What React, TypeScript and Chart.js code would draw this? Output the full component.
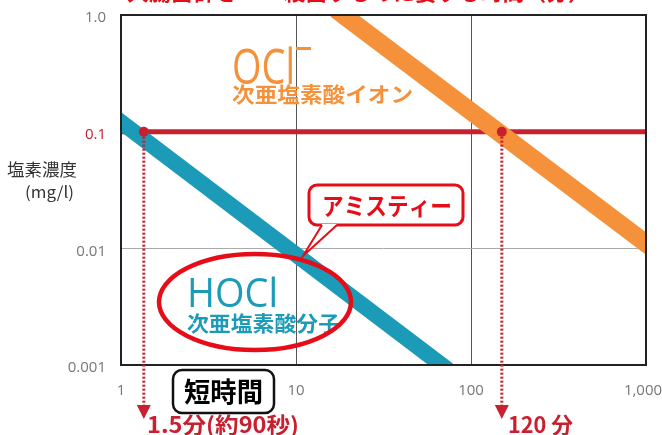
import React, { useEffect, useRef } from "react";
import { Chart, registerables } from "chart.js";

Chart.register(...registerables);

// ---- data ----
const xTickValues = [1, 10, 100, 1000];
const xTickLabels = ["1", "10", "100", "1,000"];
const yTickValues = [0.001, 0.01, 0.1, 1];
const yTickLabels = ["0.001", "0.01", "0.1", "1.0"];

const hoclTime = [1, 68];
const hoclConc = [0.121, 0.001];
const oclTime = [18.6, 1000];
const oclConc = [1, 0.011];
const thresholdTime = [1, 1000];
const thresholdConc = 0.1;
const markerTime = [1.35, 150];
const markerLabels = ["1.5分(約90秒)", "120 分"];

const RED = "#c8202f";
const BRIGHT_RED = "#e60d19";
const TEAL = "#1c9bb8";
const ORANGE = "#f5913a";
const CJK = '"Noto Sans CJK JP", "Noto Sans", sans-serif';
const LAT = '"Open Sans", "Noto Sans", sans-serif';

function fitText(
  ctx: CanvasRenderingContext2D,
  text: string,
  x: number,
  y: number,
  w: number,
  font: string,
  color: string,
  baseline: CanvasTextBaseline = "middle"
) {
  ctx.save();
  ctx.font = font;
  ctx.fillStyle = color;
  ctx.textAlign = "left";
  ctx.textBaseline = baseline;
  const m = ctx.measureText(text).width;
  const s = m > 0 ? w / m : 1;
  ctx.translate(x, y);
  ctx.scale(s, 1);
  ctx.fillText(text, 0, 0);
  ctx.restore();
}

const annotPlugin = {
  id: "annot",
  afterDatasetsDraw(chart: any) {
    const ctx: CanvasRenderingContext2D = chart.ctx;
    const { left, top, right, bottom } = chart.chartArea;
    const xs = chart.scales.x;
    const ys = chart.scales.y;

    // frame
    ctx.save();
    ctx.strokeStyle = "#222";
    ctx.lineWidth = 2;
    ctx.strokeRect(left, top, right - left, bottom - top);
    ctx.restore();

    // dotted drop lines + arrows
    const yThr = ys.getPixelForValue(thresholdConc);
    markerTime.forEach((t) => {
      const px = xs.getPixelForValue(t);
      ctx.save();
      ctx.strokeStyle = RED;
      ctx.lineWidth = 3;
      ctx.setLineDash([2, 2]);
      ctx.beginPath();
      ctx.moveTo(px, yThr + 5);
      ctx.lineTo(px, 406);
      ctx.stroke();
      ctx.setLineDash([]);
      ctx.fillStyle = RED;
      ctx.beginPath();
      ctx.moveTo(px - 7, 405);
      ctx.lineTo(px + 7, 405);
      ctx.lineTo(px, 419);
      ctx.closePath();
      ctx.fill();
      ctx.restore();
    });

    // tick labels
    ctx.save();
    ctx.font = `15px ${LAT}`;
    ctx.textBaseline = "middle";
    ctx.textAlign = "right";
    yTickValues.forEach((v, i) => {
      ctx.fillStyle = v === thresholdConc ? RED : "#777";
      ctx.fillText(yTickLabels[i], 106, ys.getPixelForValue(v) + 3);
    });
    ctx.textAlign = "center";
    ctx.fillStyle = "#777";
    xTickValues.forEach((v, i) => {
      const px = xs.getPixelForValue(v);
      ctx.fillText(xTickLabels[i], i === xTickValues.length - 1 ? px - 3 : px, 391);
    });
    ctx.restore();

    // axis title
    fitText(ctx, "塩素濃度", 7, 170, 70, `17px ${CJK}`, "#333");
    fitText(ctx, "(mg/l)", 25, 192, 49, `16px ${CJK}`, "#333");

    // top (cut) title
    fitText(ctx, "大腸菌群を99%殺菌するのに要する時間（分）", 127, -8, 463, `bold 22px ${CJK}`, BRIGHT_RED);

    // OCl- labels
    fitText(ctx, "OCl", 232, 84, 63, `400 50px ${LAT}`, ORANGE, "alphabetic");
    ctx.save();
    ctx.fillStyle = ORANGE;
    ctx.fillRect(296, 47, 15, 3);
    ctx.restore();
    fitText(ctx, "次亜塩素酸イオン", 232, 94, 181, `bold 21px ${CJK}`, ORANGE);

    // HOCl labels
    fitText(ctx, "HOCl", 187, 307, 91, `400 40px ${LAT}`, TEAL, "alphabetic");
    fitText(ctx, "次亜塩素酸分子", 187, 323, 153, `bold 21px ${CJK}`, TEAL);

    // ellipse
    ctx.save();
    ctx.strokeStyle = BRIGHT_RED;
    ctx.lineWidth = 4.5;
    ctx.beginPath();
    ctx.ellipse(255, 302, 96, 48, 0, 0, Math.PI * 2);
    ctx.stroke();
    ctx.restore();

    // speech bubble
    ctx.save();
    ctx.strokeStyle = BRIGHT_RED;
    ctx.fillStyle = "#fff";
    ctx.lineWidth = 3;
    ctx.beginPath();
    (ctx as any).roundRect(309, 185, 154, 40, 8);
    ctx.fill();
    ctx.stroke();
    ctx.beginPath();
    ctx.moveTo(322, 224);
    ctx.lineTo(303, 256);
    ctx.lineTo(337, 224);
    ctx.closePath();
    ctx.fill();
    ctx.lineWidth = 2;
    ctx.beginPath();
    ctx.moveTo(322, 225);
    ctx.lineTo(303, 256);
    ctx.lineTo(337, 225);
    ctx.stroke();
    ctx.restore();
    fitText(ctx, "アミスティー", 322, 206, 130, `bold 24px ${CJK}`, BRIGHT_RED);

    // 短時間 box
    ctx.save();
    ctx.strokeStyle = "#111";
    ctx.fillStyle = "#fff";
    ctx.lineWidth = 2.5;
    ctx.beginPath();
    (ctx as any).roundRect(173, 370, 101, 43, 9);
    ctx.fill();
    ctx.stroke();
    ctx.restore();
    fitText(ctx, "短時間", 184, 392, 79, `bold 27px ${CJK}`, "#000");

    // marker labels
    fitText(ctx, markerLabels[0], 147, 433, 152, `bold 22px ${CJK}`, RED, "alphabetic");
    fitText(ctx, markerLabels[1], 508, 433, 65, `bold 22px ${CJK}`, RED, "alphabetic");
  },
};

export default function App() {
  const ref = useRef<HTMLCanvasElement>(null);
  useEffect(() => {
    if (!ref.current) return;
    const chart = new Chart(ref.current, {
      type: "scatter",
      data: {
        datasets: [
          {
            label: "markers",
            data: markerTime.map((t) => ({ x: t, y: thresholdConc })),
            showLine: false,
            pointRadius: 5,
            pointBackgroundColor: RED,
            pointBorderWidth: 0,
            order: 0,
            clip: false as any,
          },
          {
            label: "HOCl",
            data: hoclTime.map((t, i) => ({ x: t, y: hoclConc[i] })),
            showLine: true,
            borderColor: TEAL,
            borderWidth: 16,
            borderCapStyle: "square",
            pointRadius: 0,
            order: 1,
            clip: 0 as any,
          },
          {
            label: "OCl-",
            data: oclTime.map((t, i) => ({ x: t, y: oclConc[i] })),
            showLine: true,
            borderColor: ORANGE,
            borderWidth: 18,
            borderCapStyle: "square",
            pointRadius: 0,
            order: 2,
            clip: 0 as any,
          },
          {
            label: "threshold",
            data: thresholdTime.map((t) => ({ x: t, y: thresholdConc })),
            showLine: true,
            borderColor: RED,
            borderWidth: 5,
            pointRadius: 0,
            order: 3,
            clip: 0 as any,
          },
        ],
      },
      options: {
        animation: false,
        responsive: false,
        events: [],
        layout: { padding: { left: 121, top: 15, right: 16, bottom: 70 } },
        plugins: { legend: { display: false }, tooltip: { enabled: false } },
        scales: {
          x: {
            type: "logarithmic",
            min: 1,
            max: 1000,
            afterBuildTicks: (s: any) => {
              s.ticks = xTickValues.map((v) => ({ value: v }));
            },
            ticks: { display: false },
            border: { display: false },
            grid: {
              drawTicks: false,
              lineWidth: 1,
              color: (c: any) =>
                c.tick && (c.tick.value === 10 || c.tick.value === 100) ? "#555" : "rgba(0,0,0,0)",
            },
          },
          y: {
            type: "logarithmic",
            min: 0.001,
            max: 1,
            afterBuildTicks: (s: any) => {
              s.ticks = yTickValues.map((v) => ({ value: v }));
            },
            ticks: { display: false },
            border: { display: false },
            grid: {
              drawTicks: false,
              lineWidth: 1,
              color: (c: any) =>
                c.tick && c.tick.value === 0.01 ? "#aaa" : "rgba(0,0,0,0)",
            },
          },
        },
      },
      plugins: [annotPlugin],
    });
    return () => chart.destroy();
  }, []);
  return (
    <div style={{ position: "absolute", left: 0, top: 0, width: 662, height: 435, background: "#fff" }}>
      <canvas ref={ref} width={662} height={435} style={{ display: "block" }} />
    </div>
  );
}
